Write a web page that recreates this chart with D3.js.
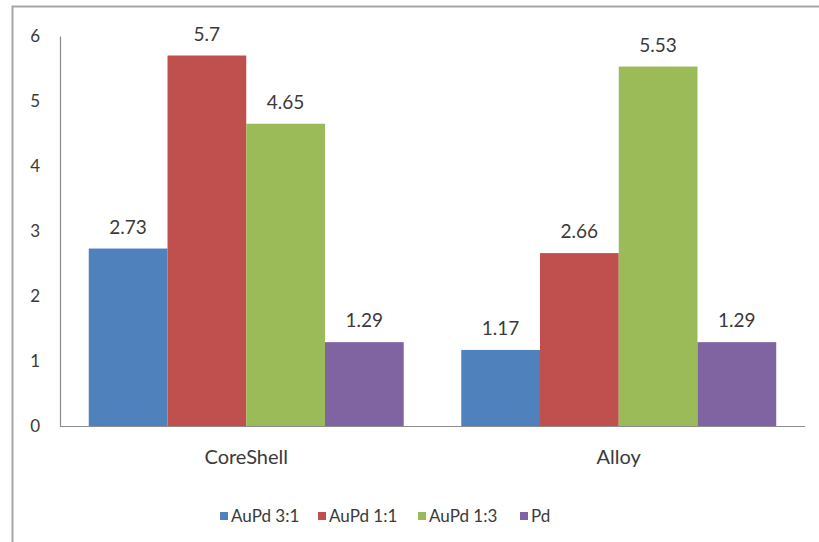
<!DOCTYPE html>
<html>
<head>
<meta charset="utf-8">
<script src="https://cdn.jsdelivr.net/npm/d3@7"></script>
<style>
  html, body { margin: 0; padding: 0; background: #fff; }
  svg { display: block; font-family: Lato, "Open Sans", sans-serif; }
</style>
</head>
<body>
<svg id="chart" width="819" height="542"></svg>
<script>
// Chart data
const categories = ["CoreShell", "Alloy"];
const seriesNames = ["AuPd 3:1", "AuPd 1:1", "AuPd 1:3", "Pd"];
const seriesColors = ["#4F81BD", "#C0504D", "#9BBB59", "#8064A2"];
const auPd31 = [2.73, 1.17];
const auPd11 = [5.7, 2.66];
const auPd13 = [4.65, 5.53];
const pd = [1.29, 1.29];
const yTicks = [0, 1, 2, 3, 4, 5, 6];

const seriesValues = [auPd31, auPd11, auPd13, pd];

const svg = d3.select("#chart");
const textColor = "#3a3a3a";
const lineColor = "#8c8c8c";

// Chart-area frame (left and top edges)
svg.append("path")
  .attr("d", "M12.5,542 V6.5 H819")
  .attr("fill", "none")
  .attr("stroke", "#a6a6a6")
  .attr("stroke-width", 2);

const plot = { left: 60, right: 805, top: 36, bottom: 426 };

const y = d3.scaleLinear().domain([0, 6]).range([plot.bottom, plot.top]);

const x0 = d3.scaleBand()
  .domain(categories)
  .range([plot.left, plot.right])
  .paddingInner(0.1544)
  .paddingOuter(0.0772);

const x1 = d3.scaleBand()
  .domain(seriesNames)
  .range([0, x0.bandwidth()])
  .padding(0);

// Y axis
const yAxis = d3.axisLeft(y).tickValues(yTicks).tickSize(0).tickPadding(20).tickFormat(d3.format("d"));
const yg = svg.append("g").attr("transform", `translate(${plot.left},0)`).call(yAxis);
yg.select(".domain").attr("stroke", lineColor).attr("stroke-width", 1.2);
yg.selectAll("text")
  .attr("fill", textColor)
  .attr("font-size", 17)
  .attr("font-family", "Lato, sans-serif");

// Bars
const groups = svg.append("g").selectAll("g")
  .data(categories)
  .join("g")
  .attr("transform", d => `translate(${x0(d)},0)`);

const barData = (c, ci) => seriesNames.map((s, si) => ({ series: s, si, value: seriesValues[si][ci] }));

groups.each(function(c, ci) {
  const g = d3.select(this);
  const data = barData(c, ci);
  g.selectAll("rect")
    .data(data)
    .join("rect")
    .attr("x", d => x1(d.series))
    .attr("y", d => y(d.value))
    .attr("width", x1.bandwidth())
    .attr("height", d => y(0) - y(d.value))
    .attr("fill", d => seriesColors[d.si]);

  g.selectAll("text.value")
    .data(data)
    .join("text")
    .attr("class", "value")
    .attr("x", d => x1(d.series) + x1.bandwidth() / 2)
    .attr("y", d => y(d.value) - 15)
    .attr("text-anchor", "middle")
    .attr("font-size", 19)
    .attr("fill", textColor)
    .text(d => String(d.value));
});

// X axis baseline
svg.append("line")
  .attr("x1", plot.left).attr("x2", plot.right)
  .attr("y1", plot.bottom + 0.5).attr("y2", plot.bottom + 0.5)
  .attr("stroke", lineColor)
  .attr("stroke-width", 1.2);

// Category labels
svg.append("g").selectAll("text")
  .data(categories)
  .join("text")
  .attr("x", d => x0(d) + x0.bandwidth() / 2)
  .attr("y", 464)
  .attr("text-anchor", "middle")
  .attr("font-size", 20)
  .attr("fill", textColor)
  .text(d => d);

// Legend
const legendX = [220, 318, 418, 520];
const legend = svg.append("g").selectAll("g")
  .data(seriesNames)
  .join("g")
  .attr("transform", (d, i) => `translate(${legendX[i]},516)`);
legend.append("rect")
  .attr("x", 0).attr("y", -4)
  .attr("width", 8).attr("height", 8)
  .attr("fill", (d, i) => seriesColors[i]);
legend.append("text")
  .attr("x", 11).attr("y", 6)
  .attr("font-size", 17)
  .attr("fill", textColor)
  .text(d => d);
</script>
</body>
</html>
